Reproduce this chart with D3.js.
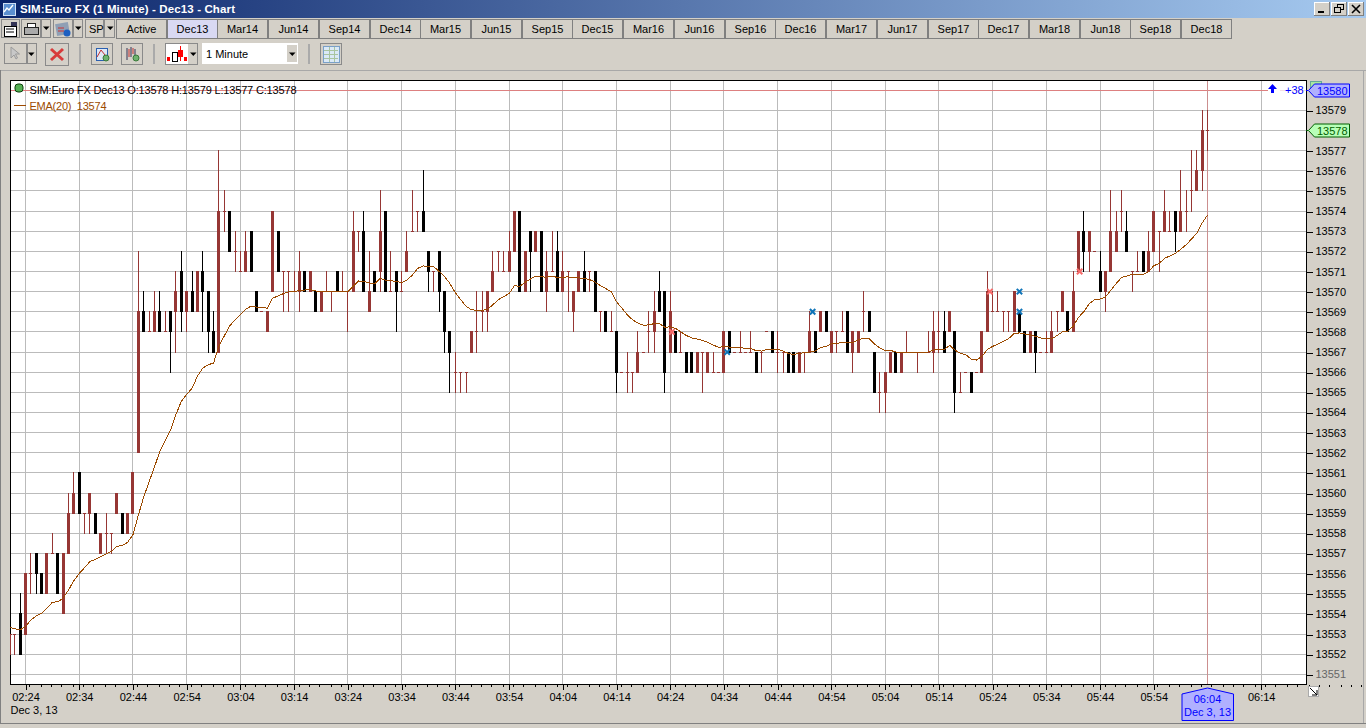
<!DOCTYPE html>
<html><head><meta charset="utf-8">
<script src="https://cdn.jsdelivr.net/npm/d3@7"></script>
<style>
html,body{margin:0;padding:0;background:#d4d0c8;overflow:hidden}
svg{display:block}
text{font-family:"Liberation Sans",Arial,sans-serif;font-size:11px}
</style></head><body>
<script>
// Bars run one per minute; the first bar is three minutes before 02:24.
const firstBarOffset = -3;
const opens = [
13553,13553,13554,13553,13556,13557,13556,13555,13557,13557,
13554,13557,13559,13561,13559,13559,13559,13557,13558,13558,
13559,13559,13558,13559,13562,13569,13568,13568,13569,13568,
13569,13569,13571,13569,13570,13569,13571,13570,13568,13567,
13574,13574,13572,13571,13571,13573,13570,13569,13568,13570,
13573,13571,13571,13570,13570,13571,13570,13570,13569,13570,
13570,13571,13570,13570,13570,13573,13573,13569,13571,13571,
13574,13570,13571,13570,13571,13573,13574,13574,13572,13571,
13572,13570,13568,13566,13566,13566,13567,13568,13569,13569,
13570,13572,13571,13571,13572,13574,13570,13573,13572,13573,
13570,13571,13572,13570,13571,13569,13570,13571,13571,13571,
13569,13569,13568,13568,13566,13566,13566,13566,13567,13568,
13568,13570,13570,13567,13568,13567,13567,13567,13566,13567,
13566,13566,13566,13566,13568,13567,13567,13567,13567,13567,
13567,13568,13568,13567,13567,13567,13567,13566,13567,13567,
13568,13568,13569,13567,13568,13568,13569,13567,13567,13569,
13569,13567,13565,13565,13566,13567,13566,13567,13567,13567,
13567,13567,13567,13568,13568,13568,13568,13565,13566,13566,
13566,13566,13568,13569,13569,13569,13569,13568,13569,13568,
13567,13568,13567,13567,13567,13569,13569,13569,13568,13571,
13573,13572,13572,13571,13570,13571,13572,13574,13573,13571,
13571,13572,13571,13572,13573,13573,13573,13574,13573,13574,
13575,13575,13576,13578];
const highs = [
13553,13553,13555,13556,13557,13557,13556,13557,13558,13557,
13557,13560,13561,13561,13559,13560,13559,13558,13559,13558,
13560,13559,13559,13561,13572,13570,13569,13570,13570,13569,
13569,13571,13572,13570,13571,13571,13572,13570,13569,13577,
13575,13574,13573,13572,13573,13573,13570,13569,13569,13574,
13573,13571,13571,13571,13572,13571,13571,13570,13570,13571,
13570,13571,13571,13570,13574,13573,13574,13572,13571,13575,
13574,13572,13571,13571,13573,13575,13574,13576,13572,13571,
13572,13570,13568,13567,13566,13566,13568,13570,13570,13570,
13572,13572,13572,13573,13574,13574,13572,13573,13573,13573,
13572,13573,13573,13572,13571,13570,13571,13572,13571,13571,
13569,13569,13569,13568,13566,13567,13566,13568,13567,13569,
13570,13571,13570,13570,13568,13568,13567,13567,13567,13567,
13567,13567,13566,13568,13568,13567,13568,13567,13568,13567,
13567,13568,13568,13568,13567,13567,13567,13567,13567,13569,
13568,13569,13569,13568,13568,13569,13569,13568,13568,13570,
13569,13567,13566,13566,13567,13567,13567,13568,13567,13567,
13567,13568,13569,13569,13569,13569,13568,13566,13566,13566,
13566,13568,13571,13570,13570,13569,13569,13570,13569,13568,
13568,13568,13567,13568,13569,13569,13570,13569,13571,13573,
13574,13573,13572,13572,13571,13575,13574,13575,13574,13571,
13572,13572,13573,13574,13573,13575,13574,13574,13576,13575,
13577,13577,13579,13579];
const lows = [
13552,13552,13552,13553,13555,13555,13555,13555,13557,13555,
13554,13557,13559,13559,13558,13558,13558,13557,13557,13557,
13559,13558,13558,13559,13562,13568,13568,13568,13568,13568,
13566,13567,13568,13568,13569,13569,13568,13567,13567,13567,
13573,13572,13571,13571,13571,13571,13569,13569,13568,13570,
13571,13569,13569,13570,13569,13570,13570,13569,13569,13570,
13569,13570,13570,13568,13570,13572,13570,13569,13570,13570,
13570,13570,13568,13570,13571,13573,13573,13573,13570,13570,
13569,13567,13565,13565,13565,13565,13567,13567,13568,13568,
13570,13571,13571,13571,13572,13570,13570,13570,13572,13570,
13569,13571,13570,13570,13569,13568,13570,13570,13570,13569,
13568,13568,13568,13565,13566,13565,13565,13566,13567,13567,
13567,13569,13565,13567,13567,13567,13566,13566,13566,13565,
13566,13566,13566,13566,13567,13567,13567,13567,13567,13566,
13566,13568,13567,13566,13566,13566,13566,13566,13566,13567,
13567,13568,13568,13567,13567,13568,13567,13566,13567,13568,
13568,13565,13564,13564,13566,13566,13566,13567,13567,13566,
13567,13567,13566,13567,13567,13568,13564,13565,13566,13565,
13566,13566,13568,13569,13569,13568,13568,13568,13568,13567,
13567,13566,13567,13567,13567,13568,13569,13568,13568,13571,
13571,13571,13572,13570,13569,13571,13572,13573,13572,13570,
13571,13571,13571,13572,13571,13573,13573,13572,13573,13573,
13574,13575,13575,13577];
const closes = [
13553,13553,13552,13556,13556,13556,13555,13557,13557,13555,
13557,13559,13560,13559,13559,13560,13558,13558,13558,13558,
13560,13558,13559,13561,13569,13568,13568,13569,13568,13568,
13568,13570,13569,13570,13569,13571,13570,13568,13567,13574,
13574,13572,13572,13571,13572,13571,13569,13569,13569,13574,
13571,13571,13571,13570,13571,13570,13571,13569,13570,13570,
13570,13570,13570,13570,13573,13573,13570,13570,13570,13573,
13570,13570,13570,13570,13572,13573,13574,13573,13571,13571,
13570,13568,13567,13566,13566,13566,13568,13568,13569,13570,
13571,13572,13571,13572,13574,13570,13572,13572,13573,13570,
13571,13571,13570,13571,13571,13570,13571,13570,13571,13569,
13569,13568,13568,13566,13566,13566,13566,13567,13567,13568,
13569,13569,13566,13569,13567,13567,13566,13566,13567,13567,
13567,13566,13566,13568,13567,13567,13567,13567,13567,13566,
13567,13568,13567,13567,13567,13566,13566,13567,13567,13568,
13567,13569,13568,13568,13568,13568,13567,13568,13568,13569,
13568,13565,13565,13566,13567,13566,13567,13567,13567,13567,
13567,13567,13568,13568,13567,13569,13565,13565,13566,13565,
13566,13568,13570,13569,13569,13569,13569,13570,13568,13567,
13568,13567,13567,13567,13568,13569,13570,13568,13570,13573,
13572,13573,13572,13570,13571,13573,13573,13574,13572,13571,
13571,13571,13572,13574,13573,13574,13573,13573,13574,13574,
13575,13576,13578,13578];
const emaValues = [
13553.33,13553.27,13553.2,13553.37,13553.7,13553.9,13554.03,13554.28,13554.58,13554.6,
13554.78,13555.18,13555.65,13556,13556.3,13556.6,13556.7,13556.85,13556.97,13557.1,
13557.35,13557.4,13557.55,13557.93,13558.9,13559.8,13560.55,13561.3,13562.05,13562.6,
13563.13,13563.9,13564.55,13564.9,13565.2,13565.8,13566.2,13566.37,13566.45,13567.3,
13567.8,13568.3,13568.6,13568.85,13569.13,13569.28,13569.23,13569.2,13569.18,13569.68,
13569.78,13569.9,13570,13570,13570.05,13570.08,13570.1,13570.03,13570.03,13570.03,
13570.03,13570.02,13570,13570,13570.27,13570.53,13570.5,13570.43,13570.4,13570.65,
13570.57,13570.53,13570.52,13570.43,13570.57,13570.82,13571.15,13571.28,13571.23,13571.23,
13571,13570.75,13570.4,13569.95,13569.6,13569.27,13569.1,13569.07,13569.06,13569.13,
13569.35,13569.6,13569.75,13569.9,13570.3,13570.26,13570.47,13570.63,13570.77,13570.73,
13570.72,13570.77,13570.7,13570.72,13570.73,13570.68,13570.68,13570.66,13570.6,13570.47,
13570.3,13570.15,13570,13569.5,13569.18,13568.85,13568.6,13568.44,13568.33,13568.35,
13568.41,13568.41,13568.23,13568.25,13568.17,13568,13567.82,13567.7,13567.65,13567.57,
13567.48,13567.35,13567.23,13567.28,13567.25,13567.23,13567.23,13567.18,13567.17,13567.07,
13567.05,13567.13,13567.13,13567.13,13567.05,13566.93,13566.88,13566.93,13566.97,13567,
13567.05,13567.23,13567.28,13567.4,13567.43,13567.48,13567.45,13567.48,13567.6,13567.68,
13567.68,13567.4,13567.2,13567.08,13567.08,13567,13567,13567,13567,13567,
13567,13567,13567.1,13567.13,13567.13,13567.33,13567.1,13566.93,13566.87,13566.65,
13566.6,13566.78,13567.12,13567.28,13567.4,13567.53,13567.67,13567.92,13567.95,13567.9,
13567.85,13567.78,13567.7,13567.65,13567.65,13567.82,13568,13568.03,13568.28,13568.73,
13569,13569.4,13569.6,13569.63,13569.73,13570.07,13570.4,13570.7,13570.78,13570.85,
13570.85,13570.85,13570.98,13571.28,13571.4,13571.65,13571.77,13571.9,13572.1,13572.32,
13572.6,13572.9,13573.4,13573.8];
const blueMarkerOffsets = [130.6,146.5,185,185];
const blueMarkerPrices = [13567,13569,13570,13569];
const pinkMarkerOffsets = [120.3,179.5,196.2];
const pinkMarkerPrices = [13568,13570,13571];
const priceTicks = d3.range(13551,13580);
const currentPrice = 13580, lastClose = 13578, lastOffset = 220;
const tabLabels = ["Active","Dec13","Mar14","Jun14","Sep14","Dec14","Mar15","Jun15","Sep15","Dec15","Mar16","Jun16","Sep16","Dec16","Mar17","Jun17","Sep17","Dec17","Mar18","Jun18","Sep18","Dec18"];

const W=1366,H=728;
const BROWN="#963634",BLACK="#000",GRID="#bbbbbb",EMA="#9c4a00",BG="#d4d0c8",BLUE="#0000ff";
const plot={l:10,r:1306,t:80,b:684};
const svg=d3.select("body").append("svg").attr("width",W).attr("height",H).attr("viewBox",`0 0 ${W} ${H}`);
svg.append("rect").attr("width",W).attr("height",H).attr("fill",BG);

const defs=svg.append("defs");
const grad=defs.append("linearGradient").attr("id","tb");
grad.append("stop").attr("offset","0").attr("stop-color","#0a246a");
grad.append("stop").attr("offset","1").attr("stop-color","#a6caf0");
defs.append("clipPath").attr("id","plotclip").append("rect").attr("x",plot.l).attr("y",plot.t).attr("width",plot.r-plot.l).attr("height",plot.b-plot.t);

/* ---------- window chrome ---------- */
const crisp=s=>s.attr("shape-rendering","crispEdges");
crisp(svg.append("rect").attr("width",W).attr("height",18).attr("fill","url(#tb)"));
svg.append("text").attr("x",20).attr("y",13).attr("fill","#fff").attr("font-weight","bold").attr("textLength",215).style("font-family","'Liberation Sans'").style("font-size","11.5px").text("SIM:Euro FX (1 Minute) - Dec13 - Chart");
// app icon
crisp(svg.append("rect").attr("x",3).attr("y",3).attr("width",12).attr("height",12).attr("fill","#5b8fd0").attr("stroke","#cfe0f5"));
svg.append("path").attr("d","M4 12L7 8L9 10L13 5").attr("fill","none").attr("stroke","#fff").attr("stroke-width",1.4);
// window buttons
function btn(x,y,w,h,fill){
  const g=svg.append("g").attr("shape-rendering","crispEdges");
  g.append("rect").attr("x",x+.5).attr("y",y+.5).attr("width",w-1).attr("height",h-1).attr("fill",fill||BG).attr("stroke","#808080");
  g.append("path").attr("d",`M${x+.5} ${y+h-1}V${y+.5}H${x+w-1}`).attr("fill","none").attr("stroke","#fff");
  return g;
}
[[1314,"min"],[1331,"res"],[1348,"cls"]].forEach(([x,k])=>{
  const g=btn(x,2,16,14);
  if(k==="min")g.append("rect").attr("x",x+4).attr("y",11).attr("width",6).attr("height",2).attr("fill","#000");
  if(k==="res"){g.append("rect").attr("x",x+6.5).attr("y",4.5).attr("width",6).attr("height",5).attr("fill","none").attr("stroke","#000");
    g.append("rect").attr("x",x+3.5).attr("y",7.5).attr("width",6).attr("height",5).attr("fill",BG).attr("stroke","#000");}
  if(k==="cls")g.append("path").attr("d",`M${x+4} 5L${x+12} 13M${x+12} 5L${x+4} 13`).attr("stroke","#000").attr("stroke-width",1.6).attr("shape-rendering","auto");
});
// Toolbar row 1
function box(x,y,w,h,fill){
  return crisp(svg.append("rect").attr("x",x+.5).attr("y",y+.5).attr("width",w-1).attr("height",h-1).attr("fill",fill||BG).attr("stroke","#8a8a8a"));
}
function arrow(x,y){svg.append("path").attr("d",`M${x-3} ${y-1.5}h6.5l-3.2 3.5z`).attr("fill","#000");}
box(1,19,19,19);box(21,19,20,19);box(41,19,10,19);arrow(46,28);box(53,19,20,19);box(73,19,10,19);arrow(78,28);box(85,19,19,19);box(104,19,11,19);arrow(110,28);
svg.append("text").attr("x",89).attr("y",33).text("SP");
// doc/print/small icons
crisp(svg.append("rect").attr("x",4).attr("y",26).attr("width",12).attr("height",10).attr("fill","#fff").attr("stroke","#000"));
svg.append("path").attr("d","M6 29h8M6 32h8").attr("stroke","#000");
svg.append("rect").attr("x",11).attr("y",22).attr("width",6).attr("height",4).attr("fill","#335");
crisp(svg.append("rect").attr("x",24).attr("y",27).attr("width",14).attr("height",7).attr("fill","#aaa").attr("stroke","#222"));
crisp(svg.append("rect").attr("x",27).attr("y",23).attr("width",8).attr("height",4).attr("fill","#fff").attr("stroke","#222"));
svg.append("rect").attr("x",56).attr("y",23).attr("width",13).attr("height",12).attr("fill","#8f9fb5").attr("transform","rotate(-10 62 29)");
svg.append("circle").attr("cx",67).attr("cy",33).attr("r",3.5).attr("fill","#1e5fc0");
svg.append("path").attr("d","M58 28h6M58 31h6").attr("stroke","#c33");
// Contract tabs
const tabW=50.72,tabX0=116;
const tabs=svg.append("g").selectAll("g").data(tabLabels).join("g").attr("transform",(d,i)=>`translate(${Math.round(tabX0+i*tabW)},19)`);
tabs.append("rect").attr("x",.5).attr("y",.5).attr("width",49.5).attr("height",19).attr("fill",d=>d==="Dec13"?"#d9d9f3":BG).attr("stroke","#808080").attr("shape-rendering","crispEdges");
tabs.append("text").attr("x",25.5).attr("y",14).attr("text-anchor","middle").attr("fill","#000").text(d=>d);
// Toolbar row 2
box(4,43,23,21);box(27,43,10,21);arrow(31,54);
svg.append("path").attr("d","M11 47v11l3-3 2 4 1.5-1-2-4h4z").attr("fill","#c8c8c8").attr("stroke","#9a9a9a");
box(45,43,24,23);
svg.append("path").attr("d","M51 49L63 60M63 49L51 60").attr("stroke","#d83a3a").attr("stroke-width",3);
crisp(svg.append("rect").attr("x",79).attr("y",44).attr("width",2).attr("height",20).attr("fill","#aaa"));
box(91,43,22,22);box(121,43,22,22);
crisp(svg.append("rect").attr("x",96).attr("y",48).attr("width",11).attr("height",12).attr("fill","#dfe8f5").attr("stroke","#2a5fb0"));
svg.append("path").attr("d","M97 57L101 50L105 55").attr("fill","none").attr("stroke","#c23030");
svg.append("circle").attr("cx",106).attr("cy",58).attr("r",3).attr("fill","#6fb26f").attr("stroke","#3a7a3a");
svg.append("path").attr("d","M127 48v12M131 47v10M135 49v9").attr("stroke","#335");
svg.append("path").attr("d","M129 49v8M133 48v6").attr("stroke","#c23030");
svg.append("circle").attr("cx",136).attr("cy",58).attr("r",3).attr("fill","#6fb26f").attr("stroke","#3a7a3a");
crisp(svg.append("rect").attr("x",153).attr("y",44).attr("width",2).attr("height",20).attr("fill","#aaa"));
box(165,43,33,22,BG);
crisp(svg.append("rect").attr("x",166).attr("y",44).attr("width",22).attr("height",20).attr("fill","#fff"));
crisp(svg.append("rect").attr("x",172).attr("y",52).attr("width",5).attr("height",9).attr("fill","#fff").attr("stroke","#000"));
crisp(svg.append("rect").attr("x",178).attr("y",50).attr("width",5).attr("height",7).attr("fill","#f00"));
crisp(svg.append("rect").attr("x",167).attr("y",57).attr("width",3).attr("height",4).attr("fill","#f00"));
crisp(svg.append("rect").attr("x",184).attr("y",57).attr("width",3).attr("height",4).attr("fill","#f00"));
crisp(svg.append("rect").attr("x",180).attr("y",46).attr("width",1).attr("height",15).attr("fill","#f00"));
arrow(193,54);
crisp(svg.append("rect").attr("x",202).attr("y",43).attr("width",96).attr("height",21).attr("fill","#fff"));
crisp(svg.append("rect").attr("x",287).attr("y",45).attr("width",10).attr("height",17).attr("fill",BG));
arrow(292,54);
svg.append("text").attr("x",206).attr("y",58).text("1 Minute");
crisp(svg.append("rect").attr("x",308).attr("y",44).attr("width",2).attr("height",20).attr("fill","#aaa"));
box(320,43,22,22);
crisp(svg.append("rect").attr("x",323).attr("y",46).attr("width",16).attr("height",16).attr("fill","#dbe9f7").attr("stroke","#7aa0c8"));
svg.append("path").attr("d","M324 50h14M324 54h14M324 58h14M329 47v15M334 47v15").attr("stroke","#a9c4a0").attr("shape-rendering","crispEdges");
// panel lines
crisp(svg.append("rect").attr("x",0).attr("y",70).attr("width",W).attr("height",1).attr("fill","#a8a8a8"));
crisp(svg.append("rect").attr("x",0).attr("y",70).attr("width",1).attr("height",653).attr("fill","#808080"));
crisp(svg.append("rect").attr("x",1363).attr("y",70).attr("width",1).attr("height",653).attr("fill","#a8a8a8"));
crisp(svg.append("rect").attr("x",0).attr("y",723).attr("width",W).attr("height",1).attr("fill","#808080"));

/* ---------- chart ---------- */
const t0=new Date(2013,11,3,2,24);
const at=m=>new Date(+t0+m*60000);
const x=d3.scaleTime().domain([at(0),at(lastOffset)]).range([25.5,1207.5]);
const y=d3.scaleLinear().domain([13551,13580]).range([674.3,90.2]);
const px=v=>Math.floor(v);
const wickX=d=>Math.max(plot.l,px(x(at(d.m))));
const bars=opens.map((o,i)=>({m:i+firstBarOffset,o,h:highs[i],l:lows[i],c:closes[i],ema:emaValues[i]}));

crisp(svg.append("rect").attr("x",plot.l).attr("y",plot.t).attr("width",plot.r-plot.l).attr("height",plot.b-plot.t).attr("fill","#fff"));
const majorTicks=d3.range(0,231,10).map(at);
const gr=svg.append("g").attr("shape-rendering","crispEdges");
gr.selectAll(".h").data(priceTicks).join("rect").attr("x",plot.l).attr("width",plot.r-plot.l).attr("y",d=>px(y(d))).attr("height",1).attr("fill",GRID);
gr.selectAll(".v").data(majorTicks).join("rect").attr("y",plot.t).attr("height",plot.b-plot.t).attr("x",d=>px(x(d))).attr("width",1).attr("fill",GRID);

// Frame sits under the marks, so the first bar paints over its left edge
crisp(svg.append("rect").attr("x",plot.l+.5).attr("y",plot.t+.5).attr("width",plot.r-plot.l).attr("height",plot.b-plot.t).attr("fill","none").attr("stroke","#000"));

const body=svg.append("g").attr("clip-path","url(#plotclip)");
const colorOf=d=>d.c<d.o?BLACK:BROWN;
// crosshair lines
crisp(body.append("rect").attr("x",plot.l+1).attr("y",px(y(currentPrice))).attr("width",1257).attr("height",1).attr("fill","#dd8080"));
crisp(body.append("rect").attr("x",1280).attr("y",px(y(currentPrice))).attr("width",plot.r-1280).attr("height",1).attr("fill","#f3dfe3"));
crisp(body.append("rect").attr("x",px(x(at(lastOffset)))).attr("y",plot.t+1).attr("width",1).attr("height",plot.b-plot.t-1).attr("fill","#cc8f8f"));

const barG=body.append("g").attr("shape-rendering","crispEdges");
const sel=barG.selectAll("g").data(bars).join("g");
sel.append("rect").attr("x",wickX).attr("width",1)
  .attr("y",d=>px(y(d.h))).attr("height",d=>Math.max(1,px(y(d.l))-px(y(d.h))+1)).attr("fill",colorOf);
sel.append("rect").attr("x",d=>wickX(d)-1).attr("width",3)
  .attr("y",d=>px(y(Math.max(d.o,d.c)))).attr("height",d=>d.o===d.c?1:px(y(Math.min(d.o,d.c)))-px(y(Math.max(d.o,d.c)))+1).attr("fill",colorOf);

body.append("path").datum(bars).attr("fill","none").attr("stroke",EMA).attr("stroke-width",1).attr("shape-rendering","crispEdges")
  .attr("d",d3.line().x(d=>x(at(d.m))).y(d=>y(d.ema)));

function markers(xs,ps,col){
  const pts=xs.map((m,i)=>({m,p:ps[i]}));
  body.append("g").selectAll("path").data(pts).join("path")
   .attr("transform",d=>`translate(${x(at(d.m))},${y(d.p)})`)
   .attr("d","M-2.7 -2.7L2.7 2.7M2.7 -2.7L-2.7 2.7").attr("stroke",col).attr("stroke-width",2).attr("fill","none");
}
markers(blueMarkerOffsets,blueMarkerPrices,"#0f74b8");
markers(pinkMarkerOffsets,pinkMarkerPrices,"#f86a6a");

// Price axis
const yAxis=d3.axisRight(y).tickValues(priceTicks.filter(v=>v!==lastClose)).tickSize(6).tickPadding(3).tickFormat(d3.format("d"));
const ya=svg.append("g").attr("transform",`translate(${plot.r+.5},0)`).call(yAxis);
ya.select(".domain").remove();
ya.selectAll("line").attr("stroke","#000").attr("shape-rendering","crispEdges").attr("transform",d=>`translate(0,${px(y(d))+.5-y(d)})`);
ya.selectAll("text").attr("fill",d=>d===13551?"#666":"#000").style("font-size","11px").style("font-family","'Liberation Sans'").attr("font-family",null);

// Time axis
const minorTicks=d3.range(-2,240).map(at).filter(d=>x(d)<plot.r&&x(d)>plot.l);
const xMinor=d3.axisBottom(x).tickValues(minorTicks).tickSize(2.5).tickFormat("");
const xm=svg.append("g").attr("transform",`translate(0,${plot.b+.5})`).call(xMinor);
xm.select(".domain").remove();
xm.selectAll("line").attr("stroke","#000").attr("shape-rendering","crispEdges").attr("transform",d=>`translate(${px(x(d))+.5},0)`);
const xAxis=d3.axisBottom(x).tickValues(majorTicks.filter(d=>+d!==+at(lastOffset))).tickSize(5.5).tickPadding(3).tickFormat(d3.timeFormat("%H:%M"));
const xa=svg.append("g").attr("transform",`translate(0,${plot.b+.5})`).call(xAxis);
xa.select(".domain").remove();
xa.selectAll("line").attr("stroke","#000").attr("shape-rendering","crispEdges");
xa.selectAll("text").style("font-size","11px").style("font-family","'Liberation Sans'").attr("fill","#000").attr("font-family",null);
svg.append("text").attr("x",10.5).attr("y",714).attr("fill","#000").text("Dec 3, 13");

// Legend
svg.append("rect").attr("x",15).attr("y",84).attr("width",8).attr("height",8).attr("rx",3).attr("fill","#55b055").attr("stroke","#0a400a");
svg.append("text").attr("x",29.5).attr("y",94).attr("fill","#000").attr("textLength",267).text(`SIM:Euro FX Dec13 O:${opens[opens.length-1]} H:${highs[highs.length-1]} L:${lows[lows.length-1]} C:${closes[closes.length-1]}`);
crisp(svg.append("rect").attr("x",14).attr("y",105).attr("width",12).attr("height",1).attr("fill",EMA));
svg.append("text").attr("x",29.5).attr("y",110).attr("fill",EMA).attr("textLength",77).text("EMA(20)\u00a0\u00a013574");

// +38 arrow
svg.append("path").attr("d","M1272.5 84l4.5 5h-3v4h-3v-4h-3z").attr("fill",BLUE);
svg.append("text").attr("x",1285).attr("y",94).attr("fill",BLUE).text("+38");

// Right badges
function badge(price,fill,stroke,color,extra){
  const cy=px(y(price))+.5;
  const bx=1312;
  if(extra)crisp(svg.append("rect").attr("x",1310).attr("y",cy-9).attr("width",11).attr("height",9).attr("fill","#a8e8a0").attr("stroke","#6a9"));
  svg.append("path").attr("d",`M${plot.r} ${cy}H${bx-4}`).attr("stroke",stroke).attr("shape-rendering","crispEdges");
  svg.append("path").attr("d",`M${bx-3.5} ${cy}L${bx+2.5} ${cy-6.5}H${1349.5}V${cy+6.5}H${bx+2.5}Z`).attr("fill",fill).attr("stroke",stroke);
  svg.append("text").attr("x",1317).attr("y",cy+4).attr("fill",color).text(price);
}
badge(currentPrice,"#b0b0ff",BLUE,BLUE,true);
badge(lastClose,"#b8ffb8","#006000","#006000",false);

// Time badge
const tx=px(x(at(lastOffset)))+.5;
svg.append("path").attr("d",`M${tx-25.5} 694V720.5H${tx+26}V694L${tx} 688Z`).attr("fill","#b0b0ff").attr("stroke",BLUE).attr("stroke-linejoin","round");
svg.append("text").attr("x",tx).attr("y",703).attr("text-anchor","middle").attr("fill",BLUE).text(d3.timeFormat("%H:%M")(at(lastOffset)));
svg.append("text").attr("x",tx).attr("y",716).attr("text-anchor","middle").attr("fill",BLUE).text("Dec 3, 13");

// Resize handle
crisp(svg.append("rect").attr("x",1308.5).attr("y",686.5).attr("width",10).attr("height",10).attr("fill","#fff").attr("stroke","#aaa"));
svg.append("path").attr("d","M1310 688L1317 695M1317 690V695H1312").attr("fill","none").attr("stroke","#000");
</script>
</body></html>
